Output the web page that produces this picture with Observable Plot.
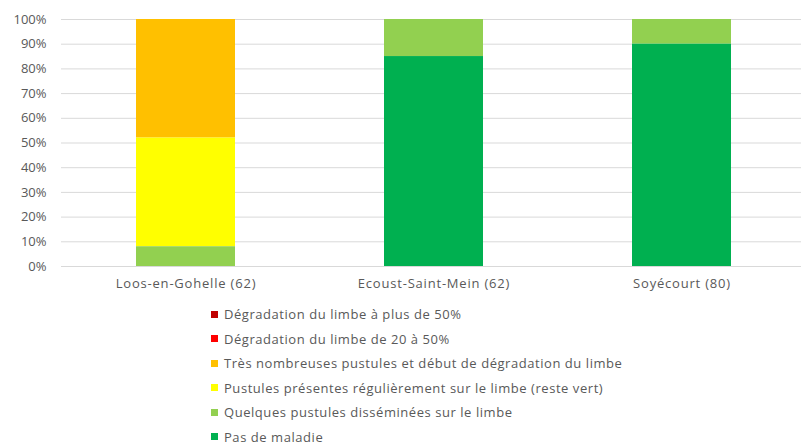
<!DOCTYPE html>
<html>
<head>
<meta charset="utf-8">
<script src="https://cdn.jsdelivr.net/npm/d3@7"></script>
<script src="https://cdn.jsdelivr.net/npm/@observablehq/plot@0.6"></script>
<style>
  body { margin: 0; background: #fff; font-family: "Open Sans", sans-serif; color: #595959; }
  #legend { position: absolute; left: 211px; top: 302px; font-size: 13px; letter-spacing: 0.55px; }
  .row { height: 24.5px; display: flex; align-items: center; }
  .sw { width: 7px; height: 7px; margin-right: 6px; flex: none; }
  .xax text { letter-spacing: 0.8px; }
</style>
</head>
<body>
<div id="chart"></div>
<div id="legend"></div>
<script>
const sites = ["Loos-en-Gohelle (62)", "Ecoust-Saint-Mein (62)", "Soyécourt (80)"];
const categories = [
  "Dégradation du limbe à plus de 50%",
  "Dégradation du limbe de 20 à 50%",
  "Très nombreuses pustules et début de dégradation du limbe",
  "Pustules présentes régulièrement sur le limbe (reste vert)",
  "Quelques pustules disséminées sur le limbe",
  "Pas de maladie"
];
const colors = ["#C00000", "#FF0000", "#FFC000", "#FFFF00", "#92D050", "#00B050"];
// values per category, one per site (percent)
const degradPlus50 = [0, 0, 0];
const degrad20a50 = [0, 0, 0];
const tresNombreuses = [48, 0, 0];
const pustulesPresentes = [44, 0, 0];
const quelquesPustules = [8, 15, 10];
const pasDeMaladie = [0, 85, 90];
const yTicks = [0, 10, 20, 30, 40, 50, 60, 70, 80, 90, 100];

const series = [degradPlus50, degrad20a50, tresNombreuses, pustulesPresentes, quelquesPustules, pasDeMaladie];
const data = [];
categories.forEach((c, i) => sites.forEach((s, j) => data.push({site: s, cat: c, value: series[i][j]})));
const stackOrder = categories.slice().reverse();

const plot = Plot.plot({
  width: 801,
  height: 296,
  marginTop: 19,
  marginBottom: 30,
  marginLeft: 61,
  marginRight: 0,
  style: {fontFamily: "Open Sans, sans-serif", fontSize: "13px", color: "#595959"},
  x: {domain: sites, range: [61, 807], paddingInner: 0.6, paddingOuter: 0.3, label: null},
  y: {domain: [0, 100], label: null},
  color: {domain: categories, range: colors},
  marks: [
    Plot.ruleY(yTicks, {stroke: "#D9D9D9", strokeWidth: 1}),
    Plot.barY(data, {x: "site", y: "value", z: "cat", fill: "cat", order: stackOrder}),
    Plot.axisY({ticks: yTicks, tickFormat: d => d + "%", tickSize: 0, tickPadding: 15, label: null, fill: "#595959"}),
    Plot.axisX({tickSize: 0, tickPadding: 12, label: null, fill: "#595959", className: "xax"})
  ]
});
document.getElementById("chart").appendChild(plot);

const legend = document.getElementById("legend");
categories.forEach((c, i) => {
  const row = document.createElement("div");
  row.className = "row";
  const sw = document.createElement("span");
  sw.className = "sw";
  sw.style.background = colors[i];
  const t = document.createElement("span");
  t.textContent = c;
  row.appendChild(sw);
  row.appendChild(t);
  legend.appendChild(row);
});
</script>
</body>
</html>
